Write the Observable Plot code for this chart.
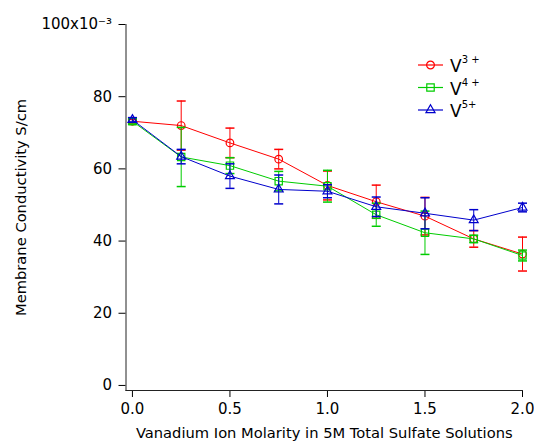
<!DOCTYPE html>
<html>
<head>
<meta charset="utf-8">
<script src="https://cdn.jsdelivr.net/npm/d3@7"></script>
<script src="https://cdn.jsdelivr.net/npm/@observablehq/plot@0.6"></script>
<style>
  html, body { margin: 0; padding: 0; background: #fff; }
  #wrap { position: relative; width: 534px; height: 441px; font-family: "DejaVu Sans", sans-serif; }
  #legend { position: absolute; left: 414px; top: 52px; }
</style>
</head>
<body>
<div id="wrap">
  <div id="chart"></div>
  <div id="legend"></div>
</div>
<script>
// Data (conductivity in units of 10^-3 S/cm)
const molarity = [0, 0.25, 0.5, 0.75, 1.0, 1.25, 1.5, 1.75, 2.0];
const v3 = [73.2, 72.0, 67.2, 62.7, 55.4, 50.9, 46.9, 40.6, 36.4];
const v3Err = [0.5, 6.8, 4.1, 2.7, 4.0, 4.6, 5.2, 2.3, 4.7];
const v4 = [73.2, 63.3, 60.9, 56.6, 55.2, 47.3, 42.3, 40.6, 36.0];
const v4Err = [0.8, 8.2, 2.2, 2.7, 4.4, 3.2, 6.0, 1.0, 1.5];
const v5 = [73.6, 63.4, 58.0, 54.3, 53.8, 49.5, 47.7, 45.8, 49.3];
const v5Err = [0.6, 2.0, 3.4, 4.0, 1.8, 2.7, 4.3, 2.9, 1.2];
const seriesNames = ["V3+", "V4+", "V5+"];
const seriesSup = ["3 +", "4 +", "5+"];
const seriesColors = ["#ff0000", "#00cc00", "#0000cc"];
const seriesSymbols = ["circle", "square", "triangle"];
const xTicks = [0, 0.5, 1.0, 1.5, 2.0];
const yTicks = [0, 20, 40, 60, 80, 100];

const values = [v3, v4, v5];
const errs = [v3Err, v4Err, v5Err];
const tables = values.map((vals, s) => molarity.map((m, i) => ({
  m, v: vals[i], lo: vals[i] - errs[s][i], hi: vals[i] + errs[s][i], series: seriesNames[s]
})));

const capSymbol = { draw(ctx) { ctx.moveTo(-4.5, 0); ctx.lineTo(4.5, 0); } };
const dotR = [3.8, 4.1, 3.3];

const marks = [];
tables.forEach((t, s) => {
  const c = seriesColors[s];
  marks.push(Plot.line(t, {x: "m", y: "v", stroke: c, strokeWidth: 1}));
  marks.push(Plot.ruleX(t, {x: "m", y1: "lo", y2: "hi", stroke: c, strokeWidth: 1}));
  marks.push(Plot.dot(t, {x: "m", y: "lo", symbol: capSymbol, stroke: c, strokeWidth: 1.5, r: 4}));
  marks.push(Plot.dot(t, {x: "m", y: "hi", symbol: capSymbol, stroke: c, strokeWidth: 1.5, r: 4}));
  marks.push(Plot.dot(t, {x: "m", y: "v", symbol: seriesSymbols[s], stroke: c, fill: "none", strokeWidth: 1.2, r: dotR[s]}));
});

const chart = Plot.plot({
  width: 534,
  height: 441,
  marginLeft: 125.5,
  marginRight: 12,
  marginTop: 24,
  marginBottom: 51,
  style: { fontFamily: "DejaVu Sans, sans-serif", fontSize: "14px", color: "#000", background: "#fff" },
  x: { domain: [-0.033, 2.0] },
  y: { domain: [-1.4, 100] },
  marks: [
    Plot.axisX({ticks: xTicks, tickFormat: d3.format(".1f"), tickSize: 7, tickPadding: 6, fontSize: 15, label: null}),
    Plot.axisX({ticks: [], tickSize: 0, fontSize: 14.7, label: "Vanadium Ion Molarity in 5M Total Sulfate Solutions", labelAnchor: "center", labelOffset: 47, labelArrow: "none"}),
    Plot.axisY({ticks: yTicks, tickFormat: d => d === 100 ? "100x10\u207B\u00B3" : String(d), tickSize: 7, tickPadding: 7, fontSize: 15, label: null}),
    Plot.axisY({ticks: [], tickSize: 0, fontSize: 14.7, label: "Membrane Conductivity S/cm", labelAnchor: "center", labelOffset: 110, labelArrow: "none"}),
    Plot.frame({anchor: "left", stroke: "#222"}),
    Plot.frame({anchor: "bottom", stroke: "#222"}),
    ...marks
  ]
});
document.getElementById("chart").appendChild(chart);

// Legend
const legendSvg = d3.select("#legend").append("svg").attr("width", 110).attr("height", 75);
const symGen = [d3.symbolCircle, d3.symbolSquare, d3.symbolTriangle];
seriesNames.forEach((name, s) => {
  const g = legendSvg.append("g").attr("transform", `translate(0, ${13 + s * 22.5})`);
  g.append("line").attr("x1", 4).attr("x2", 29).attr("y1", 0).attr("y2", 0).attr("stroke", seriesColors[s]).attr("stroke-width", 1.2);
  g.append("path").attr("transform", "translate(16.5,0)")
    .attr("d", d3.symbol(symGen[s], Math.PI * dotR[s] * dotR[s] * 1.05)())
    .attr("fill", "none").attr("stroke", seriesColors[s]).attr("stroke-width", 1.2);
  const tx = g.append("text").attr("x", 36).attr("y", 7).attr("font-size", 17).attr("font-family", "DejaVu Sans, sans-serif").attr("fill", "#000");
  tx.append("tspan").text("V");
  tx.append("tspan").attr("dy", -9).attr("font-size", 10).text(seriesSup[s]);
});
</script>
</body>
</html>
